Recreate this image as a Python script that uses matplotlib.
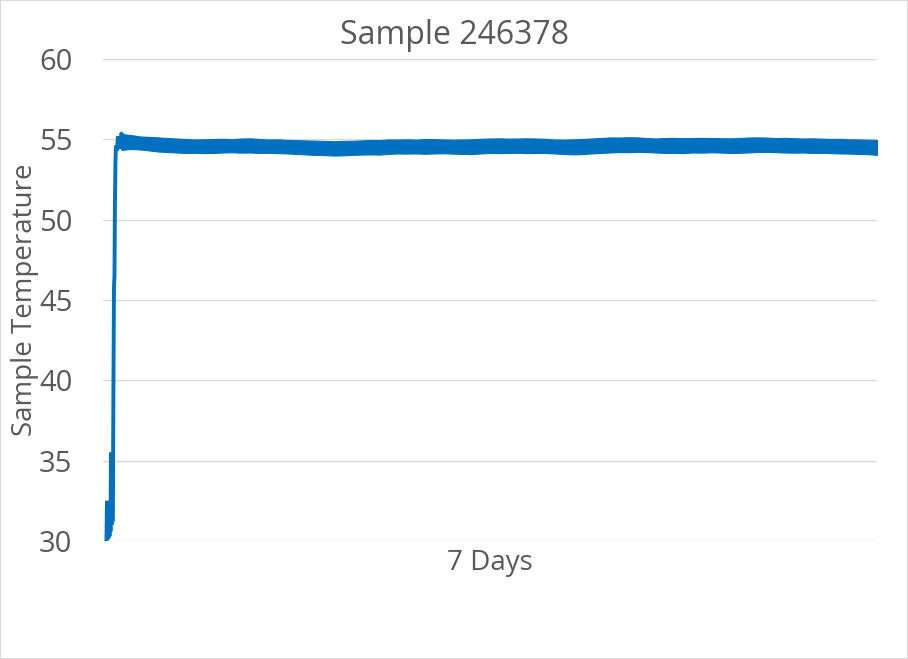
import matplotlib
matplotlib.use('Agg')
import matplotlib.pyplot as plt
from matplotlib.patches import Rectangle

plt.rcParams['font.family'] = ['Open Sans', 'DejaVu Sans']

BLUE = '#0070C0'
GREY_TEXT = '#595959'
GRID = '#d9d9d9'

# warm-up: first few hours of the log (hours, temperature)
ramp_hours = [0.76, 0.87, 0.98, 1.09, 1.19, 1.30, 1.41, 1.52, 1.63, 1.74,
              1.85, 1.95, 2.06, 2.17, 2.28, 2.39, 2.50, 2.60, 2.71, 2.82,
              3.04, 3.26, 3.47, 3.69, 3.91, 4.12]
ramp_temp = [30.0, 32.5, 30.1, 32.2, 30.2, 31.8, 30.3, 32.4, 30.6, 35.5,
             31.0, 34.8, 31.2, 33.5, 40.0, 45.8, 46.5, 51.0, 53.6, 54.6,
             54.3, 55.2, 54.8, 54.4, 55.1, 55.3]

# steady state: readings swing fast, so keep the max / min per 2 h
band_hours = list(range(4, 169, 2))
band_max = [55.33, 55.27, 55.18, 55.15, 55.12, 55.08, 55.05, 55.02, 54.99, 55.00,
            55.02, 55.03, 55.01, 55.05, 55.06, 55.02, 54.99, 55.00, 54.96, 54.95,
            54.93, 54.92, 54.90, 54.88, 54.90, 54.91, 54.93, 54.96, 54.95, 54.99,
            54.99, 55.00, 54.98, 55.02, 55.01, 54.99, 54.98, 54.99, 55.00, 55.03,
            55.05, 55.06, 55.04, 55.05, 55.06, 55.05, 55.03, 54.99, 54.98, 55.00,
            55.02, 55.05, 55.08, 55.12, 55.11, 55.13, 55.12, 55.08, 55.05, 55.08,
            55.09, 55.07, 55.08, 55.09, 55.08, 55.07, 55.06, 55.08, 55.11, 55.12,
            55.11, 55.08, 55.09, 55.07, 55.05, 55.06, 55.04, 55.02, 55.03, 55.00,
            54.99, 54.98, 54.96]
band_min = [54.34, 54.40, 54.37, 54.31, 54.24, 54.21, 54.18, 54.15, 54.16, 54.14,
            54.15, 54.18, 54.19, 54.17, 54.18, 54.15, 54.16, 54.14, 54.12, 54.09,
            54.06, 54.03, 54.02, 53.99, 54.00, 54.03, 54.05, 54.06, 54.05, 54.09,
            54.12, 54.11, 54.12, 54.10, 54.12, 54.13, 54.11, 54.09, 54.08, 54.12,
            54.15, 54.14, 54.15, 54.16, 54.14, 54.15, 54.15, 54.12, 54.09, 54.06,
            54.08, 54.12, 54.15, 54.18, 54.21, 54.20, 54.22, 54.21, 54.18, 54.15,
            54.16, 54.14, 54.18, 54.17, 54.19, 54.18, 54.15, 54.16, 54.18, 54.21,
            54.22, 54.20, 54.18, 54.17, 54.18, 54.15, 54.16, 54.14, 54.12, 54.11,
            54.09, 54.08, 54.03]

y_ticks = [30, 35, 40, 45, 50, 55, 60]

fig = plt.figure(figsize=(9.08, 6.59), dpi=100)
fig.patches.append(Rectangle((0, 0), 1, 1, transform=fig.transFigure,
                             fill=False, edgecolor=GRID, linewidth=1.5))
ax = fig.add_axes([0.1134, 0.1791, 0.8524, 0.7314])

ax.plot(ramp_hours + band_hours[:1], ramp_temp + band_max[:1],
        color=BLUE, linewidth=2.8, solid_joinstyle='miter')
ax.fill_between(band_hours, band_min, band_max, color=BLUE, linewidth=0.8,
                edgecolor=BLUE)

ax.set_xlim(0, 168)
ax.set_ylim(30, 60)
ax.set_yticks(y_ticks)
ax.set_xticks([])
ax.yaxis.grid(True, color=GRID, linewidth=1)
ax.set_axisbelow(True)
for s in ax.spines.values():
    s.set_visible(False)
ax.tick_params(axis='y', length=0, pad=22, labelsize=21, labelcolor=GREY_TEXT)

# excel centres the title on the whole chart, not the plot area
fig.text(0.5, 1 - 36 / 659, 'Sample 246378', fontsize=23, color=GREY_TEXT,
         ha='center', va='center')
ax.set_xlabel('7 Days', fontsize=20, color=GREY_TEXT, labelpad=6)
ax.set_ylabel('Sample Temperature', fontsize=20, color=GREY_TEXT, labelpad=0)

fig.savefig('out.png', dpi=100)
